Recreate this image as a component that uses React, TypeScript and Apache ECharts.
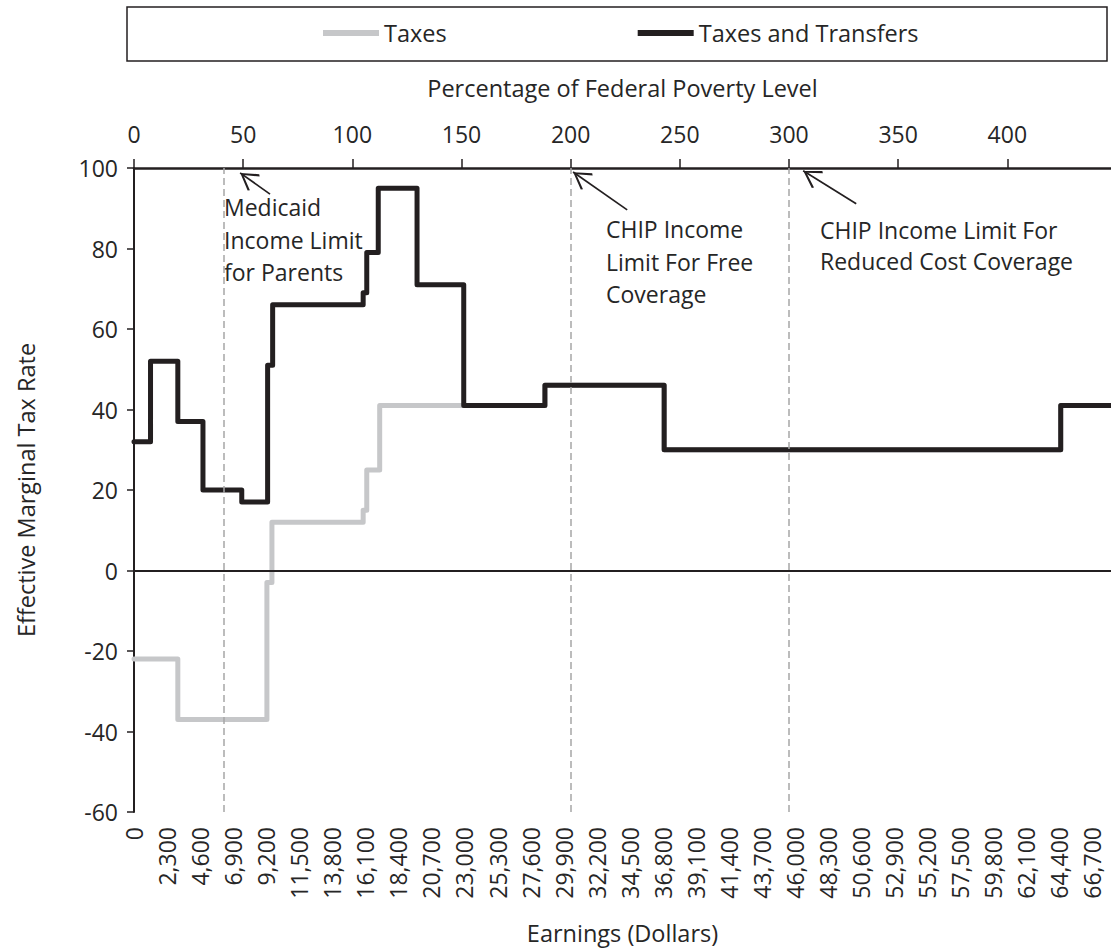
import React, { useEffect, useRef } from "react";
import * as echarts from "echarts";

// ---- axis ranges ----
const EARNINGS_MAX = 68000;
const EARNINGS_INTERVAL = 2300;
const FPL_MAX = 447.5;
const FPL_INTERVAL = 50;
const RATE_MIN = -60;
const RATE_MAX = 100;
const RATE_INTERVAL = 20;

// ---- series: step break points (earnings, dollars) and the rate that starts there ----
const transferEarnings = [0, 1150, 3050, 4800, 7500, 9300, 9650, 15950, 16200, 17000, 19700, 22950, 28600, 36900, 64500, 68000];
const transferRates = [32, 52, 37, 20, 17, 51, 66, 69, 79, 95, 71, 41, 46, 30, 41, 41];

const taxEarnings = [0, 3050, 9250, 9600, 15950, 16200, 17100, 22950, 28600, 36900, 64500, 68000];
const taxRates = [-22, -37, -3, 12, 15, 25, 41, 41, 46, 30, 41, 41];

// ---- annotations (percentage of federal poverty level) ----
const limitFpl = [41, 200, 300];
const limitLabels = [
  "Medicaid\nIncome Limit\nfor Parents",
  "CHIP Income\nLimit For Free\nCoverage",
  "CHIP Income Limit For\nReduced Cost Coverage",
];
const arrowTail: number[][] = [
  [62.3, 93.5],
  [225.9, 89.6],
  [330.8, 91.1],
];
const arrowHead: number[][] = [
  [48.6, 98.8],
  [201.1, 99.0],
  [306.5, 99.3],
];

const FONT = '"Open Sans", "DejaVu Sans", sans-serif';
const TEXT = "#262626";
const DARK = "#231f20";
const LIGHT = "#c6c7c9";
// open chevron, tip at the centre of the bounding box
const ARROW = "path://M5,0 L10,8 L9.2,8.8 L5,1.8 L0.8,8.8 L0,8 Z M5,-9 L5.001,-9 L5,-8.999 Z";

const fmt = (v: number) => String(Math.round(v)).replace(/\B(?=(\d{3})+(?!\d))/g, ",");

export default function App() {
  const ref = useRef<HTMLDivElement>(null);

  useEffect(() => {
    if (!ref.current) return;
    const chart = echarts.init(ref.current, null, { renderer: "svg" });

    const transferData = transferEarnings.map((e, i) => [e, transferRates[i]]);
    const taxData = taxEarnings.map((e, i) => [e, taxRates[i]]);

    const option: any = {
      animation: false,
      textStyle: { fontFamily: FONT, color: TEXT },
      grid: { left: 134, right: 0, top: 168, bottom: 139, containLabel: false },
      legend: {
        data: ["Taxes", "Taxes and Transfers"],
        left: 323,
        top: 21,
        padding: 0,
        itemWidth: 56,
        itemHeight: 6,
        itemGap: 191,
        icon: "rect",
        selectedMode: false,
        textStyle: { fontFamily: FONT, fontSize: 23.5, color: TEXT },
      },
      xAxis: [
        {
          type: "value",
          position: "bottom",
          min: 0,
          max: EARNINGS_MAX,
          interval: EARNINGS_INTERVAL,
          name: "Earnings (Dollars)",
          nameLocation: "middle",
          nameGap: 109,
          nameTextStyle: { fontFamily: FONT, fontSize: 23.5, color: TEXT },
          axisLine: {
            onZero: false,
            lineStyle: {
              color: "#c4c4c4",
              width: 3,
              shadowColor: "rgba(0,0,0,0.3)",
              shadowBlur: 4,
              shadowOffsetY: 2,
            },
          },
          axisTick: { show: false },
          splitLine: { show: false },
          axisLabel: {
            rotate: 90,
            margin: 15,
            fontSize: 23,
            color: TEXT,
            fontFamily: FONT,
            showMaxLabel: false,
            formatter: (v: number) => fmt(v),
          },
        },
        {
          type: "value",
          position: "top",
          min: 0,
          max: FPL_MAX,
          interval: FPL_INTERVAL,
          name: "Percentage of Federal Poverty Level",
          nameLocation: "middle",
          nameGap: 68,
          nameTextStyle: { fontFamily: FONT, fontSize: 23.5, color: TEXT },
          axisLine: { onZero: false, lineStyle: { color: DARK, width: 2.5 } },
          axisTick: { show: true, inside: false, length: 9, lineStyle: { color: DARK, width: 1.5 } },
          splitLine: { show: false },
          axisLabel: {
            margin: 23,
            fontSize: 23,
            color: TEXT,
            fontFamily: FONT,
            showMaxLabel: false,
          },
        },
      ],
      yAxis: {
        type: "value",
        min: RATE_MIN,
        max: RATE_MAX,
        interval: RATE_INTERVAL,
        name: "Effective Marginal Tax Rate",
        nameLocation: "middle",
        nameGap: 96,
        nameTextStyle: { fontFamily: FONT, fontSize: 23.5, color: TEXT },
        axisLine: { show: true, onZero: false, lineStyle: { color: DARK, width: 2 } },
        axisTick: { show: true, inside: false, length: 7, lineStyle: { color: DARK, width: 1.5 } },
        splitLine: { show: false },
        axisLabel: { margin: 16, fontSize: 23, color: TEXT, fontFamily: FONT },
      },
      series: [
        {
          name: "Limits",
          type: "line",
          xAxisIndex: 1,
          yAxisIndex: 0,
          data: [],
          silent: true,
          z: 1,
          markLine: {
            silent: true,
            symbol: "none",
            label: { show: false },
            lineStyle: { color: "#a6a6a6", width: 1.5, type: [7, 4] },
            data: limitFpl.map((v) => ({ xAxis: v })),
          },
        },
        {
          name: "Arrows",
          type: "line",
          xAxisIndex: 1,
          yAxisIndex: 0,
          data: [],
          silent: true,
          z: 6,
          markLine: {
            silent: true,
            symbol: ["none", ARROW],
            symbolSize: [20, 36],
            label: { show: false },
            lineStyle: { color: DARK, width: 1.7, type: "solid" },
            data: arrowTail.map((t, i) => [{ coord: t }, { coord: arrowHead[i] }]),
          },
        },
        {
          name: "Taxes",
          type: "line",
          step: "end",
          data: taxData,
          showSymbol: false,
          color: LIGHT,
          lineStyle: { color: LIGHT, width: 5, cap: "round", join: "round" },
          z: 3,
          markLine: {
            silent: true,
            symbol: "none",
            label: { show: false },
            lineStyle: { color: DARK, width: 2, type: "solid" },
            data: [{ yAxis: 0 }],
          },
        },
        {
          name: "Taxes and Transfers",
          type: "line",
          step: "end",
          data: transferData,
          showSymbol: false,
          color: DARK,
          lineStyle: { color: DARK, width: 5, cap: "round", join: "round" },
          z: 4,
        },
      ],
      graphic: [
        {
          type: "rect",
          shape: { x: 127, y: 7, width: 980, height: 54 },
          style: { fill: "none", stroke: DARK, lineWidth: 1.5 },
          silent: true,
        },
        {
          type: "text",
          x: 224,
          y: 191,
          style: { text: limitLabels[0], font: `23px ${FONT}`, lineHeight: 32.5, fill: TEXT, verticalAlign: "top" },
          silent: true,
        },
        {
          type: "text",
          x: 606,
          y: 213,
          style: { text: limitLabels[1], font: `23px ${FONT}`, lineHeight: 32.5, fill: TEXT, verticalAlign: "top" },
          silent: true,
        },
        {
          type: "text",
          x: 820,
          y: 214,
          style: { text: limitLabels[2], font: `23px ${FONT}`, lineHeight: 31, fill: TEXT, verticalAlign: "top" },
          silent: true,
        },
      ],
    };

    chart.setOption(option);
    return () => chart.dispose();
  }, []);

  return (
    <div
      ref={ref}
      style={{ position: "absolute", left: 0, top: 0, width: 1111, height: 951, background: "#fff" }}
    />
  );
}
